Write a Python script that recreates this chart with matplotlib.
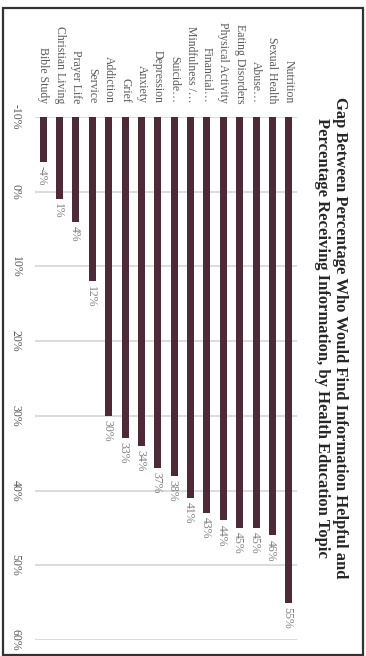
import matplotlib
matplotlib.use('Agg')
import matplotlib.pyplot as plt
import numpy as np
from matplotlib.patches import Rectangle

# categories, left to right on the page (bottom to top before the turn)
topics = ['Bible Study', 'Christian Living', 'Prayer Life', 'Service', 'Addiction', 'Grief',
          'Anxiety', 'Depression', 'Suicide…', 'Mindfulness /…', 'Financial…',
          'Physical Activity', 'Eating Disorders', 'Abuse…', 'Sexual Health', 'Nutrition']
gap = [-4, 1, 4, 12, 30, 33, 34, 37, 38, 41, 43, 44, 45, 45, 46, 55]
value_ticks = [-10, 0, 10, 20, 30, 40, 50, 60]
title = ('Gap Between Percentage Who Would Find Information Helpful and\n'
         'Percentage Receiving Information, by Health Education Topic')

W, H = 366, 656
px = 1 / 100
fig = plt.figure(figsize=(W * px, H * px), dpi=100)
fig.patch.set_facecolor('white')

serif = ['Liberation Serif', 'DejaVu Serif']
bar_clr = '#4e2937'
lab_clr = '#595959'

ax = fig.add_axes((35 / W, 1 - 640 / H, 262 / W, 523 / H))
x = np.arange(len(topics))
base = value_ticks[0]
vals = np.array(gap, dtype=float)
ax.bar(x, vals - base, bottom=base, width=0.42, color=bar_clr, zorder=3)

ax.set_xlim(-0.5, len(topics) - 0.5)
ax.set_ylim(value_ticks[-1], value_ticks[0])
ax.set_yticks(value_ticks)
ax.set_yticklabels([f'{v}%' for v in value_ticks], rotation=-90, family=serif,
                   fontsize=8.5, color=lab_clr, ha='center', va='center')
ax.tick_params(axis='y', length=0, pad=14)
ax.yaxis.grid(True, color='#d9d9d9', lw=1.3, zorder=0)
ax.set_axisbelow(True)

ax.xaxis.tick_top()
ax.set_xticks(x)
ax.set_xticklabels(topics, family=serif, fontsize=8.5, color=lab_clr)
for lab in ax.get_xticklabels():
    lab.set_rotation(-90)
    lab.set_rotation_mode('anchor')
    lab.set_ha('right')
    lab.set_va('center')
ax.tick_params(axis='x', length=0, pad=10)
for s in ax.spines.values():
    s.set_visible(False)

for xi, v in zip(x, gap):
    ax.annotate(f'{v}%', xy=(xi, v), xytext=(-1, -3), textcoords='offset points',
                rotation=-90, ha='center', va='top', fontsize=8.5, family=serif,
                color='#7f7f7f')

fig.text(331 / W, 1 - 338 / H, title, rotation=-90, ha='center', va='center',
         multialignment='center', family=serif, fontweight='bold', fontsize=12,
         color='#262626')

fig.patches.append(Rectangle((3 / W, 1 - 655 / H), 360 / W, 647 / H, transform=fig.transFigure,
                             fill=False, edgecolor='#333333', lw=1.6))

fig.savefig('out.png', dpi=100)
